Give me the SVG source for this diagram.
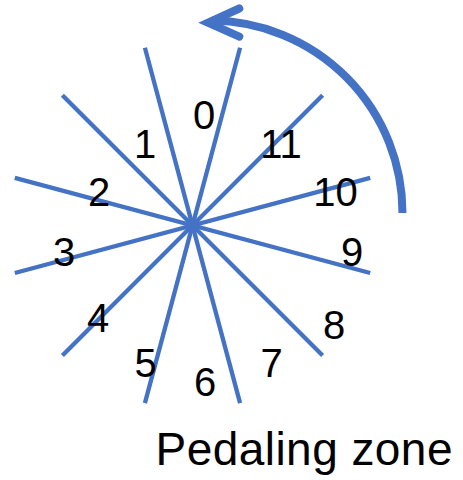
<svg xmlns="http://www.w3.org/2000/svg" width="463" height="480" viewBox="0 0 463 480">
  <style>
    .spoke { stroke: #4472C4; stroke-width: 4.3; fill: none; }
    .arc { stroke: #4472C4; stroke-width: 8; fill: none; }
    .num { font-family: "Liberation Sans", Arial, sans-serif; font-size: 40px; fill: #000; text-anchor: middle; }
    .title { font-family: "Liberation Sans", Arial, sans-serif; font-size: 46px; fill: #000; }
  </style>
  <rect width="463" height="480" fill="#fff"/>
  <g id="spokes">
    <line class="spoke" x1="240.1" y1="47.7" x2="144.9" y2="403.1"/>
    <line class="spoke" x1="144.9" y1="47.7" x2="240.1" y2="403.1"/>
    <line class="spoke" x1="322.6" y1="95.3" x2="62.4" y2="355.5"/>
    <line class="spoke" x1="62.4" y1="95.3" x2="322.6" y2="355.5"/>
    <line class="spoke" x1="370.2" y1="177.8" x2="14.8" y2="273"/>
    <line class="spoke" x1="14.8" y1="177.8" x2="370.2" y2="273"/>
  </g>
  <g id="labels">
    <text class="num" x="204" y="129">0</text>
    <text class="num" x="145" y="158.3">1</text>
    <text class="num" x="99" y="206">2</text>
    <text class="num" x="64" y="266">3</text>
    <text class="num" x="98" y="332.3">4</text>
    <text class="num" x="145.5" y="376.5">5</text>
    <text class="num" x="205" y="396">6</text>
    <text class="num" x="271.7" y="376.7">7</text>
    <text class="num" x="334" y="338.7">8</text>
    <text class="num" x="352" y="266">9</text>
    <text class="num" x="335.5" y="206.3">10</text>
    <text class="num" x="281" y="158.3">11</text>
  </g>
  <g id="rotation-arrow">
    <path class="arc" d="M 402.5 213 A 192.5 192.5 0 0 0 212 20.6"/>
    <polyline class="arc" points="239.3,8.5 208,22.7 239.3,36.7" stroke-linecap="round" stroke-linejoin="miter"/>
  </g>
  <g id="title">
    <text class="title" x="155.5" y="465" textLength="297" lengthAdjust="spacing">Pedaling zone</text>
  </g>
</svg>
